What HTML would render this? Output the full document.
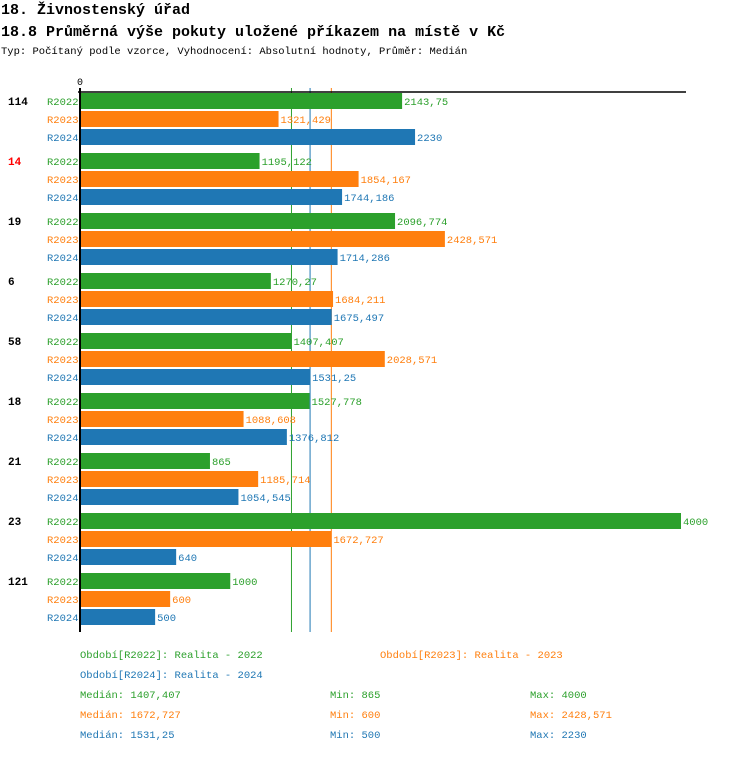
<!DOCTYPE html>
<html><head><meta charset="utf-8"><style>
body{margin:0;background:#fff;width:750px;height:752px;overflow:hidden;font-family:"Liberation Mono",monospace}
</style></head><body>
<svg width="750" height="752" xmlns="http://www.w3.org/2000/svg" font-family="Liberation Mono, monospace">
<text x="1" y="14" font-size="15" font-weight="bold" fill="#000">18. Živnostenský úřad</text>
<text x="1" y="36" font-size="15" font-weight="bold" fill="#000">18.8 Průměrná výše pokuty uložené příkazem na místě v Kč</text>
<text x="1" y="54" font-size="10.5" fill="#000">Typ: Počítaný podle vzorce, Vyhodnocení: Absolutní hodnoty, Průměr: Medián</text>
<text x="77" y="85" font-size="10" fill="#000">0</text>
<g id="medlines"></g>
<g id="marks"></g>
<line x1="78" y1="92" x2="686" y2="92" stroke="#000" stroke-width="1.5"/>
<line x1="80" y1="88" x2="80" y2="632" stroke="#000" stroke-width="2"/>
<g id="legend" font-size="10.5"></g>
</svg>
<script>
const groups=["114","14","19","6","58","18","21","23","121"];
const series=["R2022","R2023","R2024"];
const v2022=[2143.75,1195.122,2096.774,1270.27,1407.407,1527.778,865,4000,1000];
const v2023=[1321.429,1854.167,2428.571,1684.211,2028.571,1088.608,1185.714,1672.727,600];
const v2024=[2230,1744.186,1714.286,1675.497,1531.25,1376.812,1054.545,640,500];
const medians=[1407.407,1672.727,1531.25];
const mins=[865,600,500];
const maxs=[4000,2428.571,2230];
const colors=["#2ca02c","#ff7f0e","#1f77b4"];
const NS="http://www.w3.org/2000/svg";
const x=v=>80+v*(601/4000);
const fmt=v=>String(v).replace('.',',');
const marks=document.getElementById('marks');
const medg=document.getElementById('medlines');
function mk(tag,attrs,parent,text){const e=document.createElementNS(NS,tag);for(const k in attrs)e.setAttribute(k,attrs[k]);if(text!==undefined)e.textContent=text;parent.appendChild(e);return e;}
const vals=[v2022,v2023,v2024];
medians.forEach((m,j)=>{
  const l=mk('line',{x1:x(m),y1:88,x2:x(m),y2:632,stroke:colors[j],'stroke-width':1},medg);
  
  
});
groups.forEach((g,i)=>{
  const gy=93+60*i;
  const gl=mk('text',{x:8,y:gy+12,'font-size':11,'font-weight':'bold',fill:g==="14"?"#f00":"#000"},marks,g);
  
  
  series.forEach((s,j)=>{
    const y=gy+18*j;
    const sl=mk('text',{x:47,y:y+12,'font-size':10.5,fill:colors[j]},marks,s);
    
    
    const v=vals[j][i];
    const r=mk('rect',{x:80,y:y,width:x(v)-80,height:16,fill:colors[j]},marks);
    
    
    const t=mk('text',{x:x(v)+2,y:y+12,'font-size':10.5,fill:colors[j]},marks,fmt(v));
    
    
  });
});
const lg=document.getElementById('legend');
const legendItems=[["Období[R2022]: Realita - 2022",80,658,0],["Období[R2023]: Realita - 2023",380,658,1],["Období[R2024]: Realita - 2024",80,678,2]];
legendItems.forEach(a=>{
  const t=mk('text',{x:a[1],y:a[2],fill:colors[a[3]]},lg,a[0]);
  
  
});
series.forEach((s,j)=>{
  const y=698+20*j;
  const a=mk('text',{x:80,y:y,fill:colors[j]},lg,"Medián: "+fmt(medians[j]));
  
  
  const b=mk('text',{x:330,y:y,fill:colors[j]},lg,"Min: "+fmt(mins[j]));
  
  
  const c=mk('text',{x:530,y:y,fill:colors[j]},lg,"Max: "+fmt(maxs[j]));
  
  
});
</script>
</body></html>
